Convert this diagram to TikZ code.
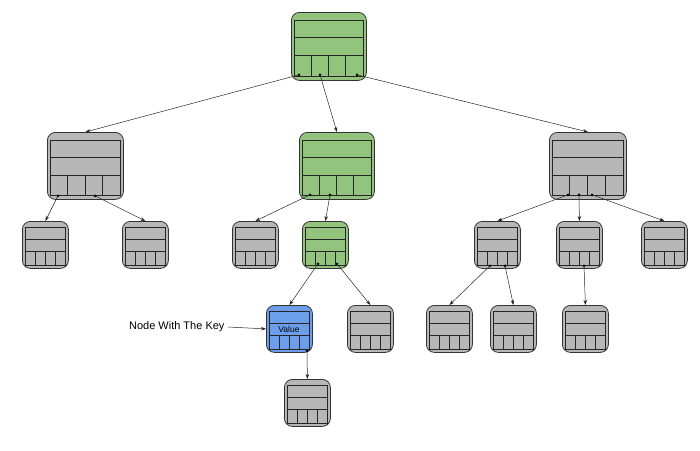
\documentclass[tikz,border=0pt]{standalone}
\usepackage{fontspec}
\setmainfont{Liberation Sans}
\usetikzlibrary{calc,arrows.meta}
\definecolor{gfill}{HTML}{93C47D}
\definecolor{gline}{HTML}{2F5F1F}
\definecolor{bfill}{HTML}{6D9EEB}
\definecolor{nfill}{HTML}{B7B7B7}
\tikzset{
 bx/.style={draw=black!80,line width=0.8pt,rounded corners=8pt,inner sep=0pt},
 inner/.style={draw=black!85,line width=0.7pt},
 edge/.style={draw=black!85,line width=0.5pt,-{Stealth[length=5pt,width=3.5pt]}},
 dotmark/.style={circle,fill=black,inner sep=0pt,minimum size=3pt},
}
\newcommand\bn[6]{%
 \node[bx,fill=#6,minimum width=#4pt,minimum height=#5pt,anchor=north west] (#1) at (#2,#3) {};
 \pgfmathsetmacro\xa{#2+3}\pgfmathsetmacro\xb{#2+#4-3}%
 \pgfmathsetmacro\ya{#3+0.13*#5}\pgfmathsetmacro\yb{#3+0.38*#5}%
 \pgfmathsetmacro\yc{#3+0.64*#5}\pgfmathsetmacro\yd{#3+0.94*#5}%
 \pgfmathsetmacro\cw{(#4-6)/4}%
 \draw[inner] (\xa,\ya) rectangle (\xb,\yd);
 \draw[inner] (\xa,\yb) -- (\xb,\yb) (\xa,\yc) -- (\xb,\yc);
 \foreach \k in {1,2,3}{\draw[inner] ({\xa+\k*\cw},\yc) -- ({\xa+\k*\cw},\yd);}
}
\newcommand\ed[4]{% parent, dx, dy, child
 \node[dotmark] at ($(#1.south west)+(#2,#3)$) {};
 \draw[edge] ($(#1.south west)+(#2,#3)$) -- (#4.north);
}
\begin{document}
\begin{tikzpicture}[x=1pt,y=-1pt]
\useasboundingbox (0,0) rectangle (700,450);
\bn{root}{291}{12}{75}{68}{gfill}
\bn{la}{47}{132}{76}{67}{nfill}
\bn{lb}{299}{132}{75}{67}{gfill}
\bn{lc}{549}{132}{77}{67}{nfill}
\bn{ma}{22}{221}{46}{47}{nfill}
\bn{mb}{122}{221}{46}{47}{nfill}
\bn{mc}{232}{221}{46}{47}{nfill}
\bn{md}{302}{221}{46}{47}{gfill}
\bn{me}{474}{221}{46}{47}{nfill}
\bn{mf}{556}{221}{46}{47}{nfill}
\bn{mg}{641}{221}{46}{47}{nfill}
\bn{na}{266}{305}{46}{47}{bfill}
\bn{nb}{347}{305}{46}{47}{nfill}
\bn{nc}{426}{305}{46}{47}{nfill}
\bn{nd}{490}{305}{46}{47}{nfill}
\bn{ne}{562}{305}{46}{47}{nfill}
\bn{oa}{284}{379}{46}{47}{nfill}
\node[font=\fontsize{8.5}{10}\selectfont] (val) at (289,329) {Value};
\node[font=\fontsize{11}{13}\selectfont,anchor=east] (lbl) at (228,327) {Node With The Key};
\draw[edge] (lbl.east) -- (na.west);
\ed{root}{8}{-6}{la}
\ed{root}{29}{-6}{lb}
\ed{root}{66}{-6}{lc}
\ed{la}{11}{-4}{ma}
\ed{la}{48}{-4}{mb}
\ed{lb}{11}{-5}{mc}
\ed{lb}{31}{-5}{md}
\ed{lc}{19}{-5}{me}
\ed{lc}{30}{-5}{mf}
\ed{lc}{43}{-5}{mg}
\ed{md}{16}{-5}{na}
\ed{md}{35}{-5}{nb}
\ed{me}{16}{-3}{nc}
\ed{me}{31}{-3}{nd}
\ed{mf}{28}{-3}{ne}
\ed{na}{41}{-2}{oa}
\end{tikzpicture}
\end{document}
